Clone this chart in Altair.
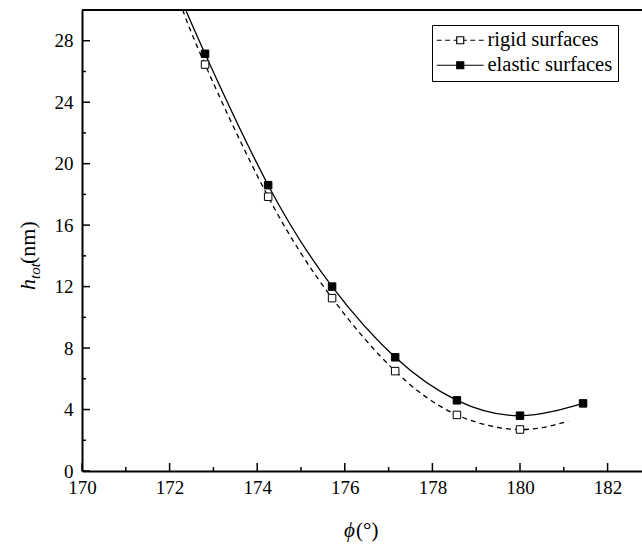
import altair as alt
import pandas as pd

# ---- data ----
phi = [172.81, 174.25, 175.71, 177.15, 178.56, 180.0, 181.44]
h_rigid = [26.45, 17.85, 11.25, 6.5, 3.65, 2.7]
h_elastic = [27.15, 18.6, 12.0, 7.4, 4.6, 3.6, 4.4]

fit_rigid_phi = [172.30, 172.81, 174.25, 175.71, 177.15, 178.56, 180.0, 181.1]
fit_rigid_h = [30.0, 26.45, 17.85, 11.25, 6.5, 3.65, 2.7, 3.25]
fit_elastic_phi = [172.37, 172.81, 174.25, 175.71, 177.15, 178.56, 180.0, 181.44]
fit_elastic_h = [30.0, 27.15, 18.6, 12.0, 7.4, 4.6, 3.6, 4.4]

series = ["rigid surfaces", "elastic surfaces"]
x_major = [170, 172, 174, 176, 178, 180, 182]
x_minor = [171, 173, 175, 177, 179, 181]
y_major = [0, 4, 8, 12, 16, 20, 24, 28]
y_minor = [2, 6, 10, 14, 18, 22, 26]

W, H = 560, 461
FONT = "Liberation Serif"
LFONT = "Liberation Serif, Times New Roman, serif"

pts = pd.DataFrame(
    {"phi": phi[:len(h_rigid)], "h": h_rigid, "series": series[0]}
)
pts = pd.concat(
    [pts, pd.DataFrame({"phi": phi, "h": h_elastic, "series": series[1]})],
    ignore_index=True,
)
fit_r = pd.DataFrame({"phi": fit_rigid_phi, "h": fit_rigid_h})
fit_e = pd.DataFrame({"phi": fit_elastic_phi, "h": fit_elastic_h})

xs = alt.Scale(domain=[170, 170 + W / 43.8], nice=False, zero=False)
ys = alt.Scale(domain=[0, 30], nice=False)

x_axis = alt.Axis(values=x_major, title=None, ticks=False, grid=False,
                  labelFont=LFONT, labelFontSize=19, labelColor="black",
                  labelPadding=7, domainColor="black", domainWidth=2,
                  labelFlush=False)
y_axis = alt.Axis(values=y_major, title=None, ticks=False, grid=False,
                  labelFont=LFONT, labelFontSize=19, labelColor="black",
                  labelPadding=9, domainColor="black", domainWidth=2)

line_r = alt.Chart(fit_r).mark_line(
    color="black", strokeWidth=1.3, strokeDash=[5, 4], interpolate="natural", clip=True
).encode(
    x=alt.X("phi:Q", scale=xs, axis=x_axis),
    y=alt.Y("h:Q", scale=ys, axis=y_axis),
    order="phi:Q",
)
line_e = alt.Chart(fit_e).mark_line(
    color="black", strokeWidth=1.3, interpolate="natural", clip=True
).encode(x=alt.X("phi:Q", scale=xs), y=alt.Y("h:Q", scale=ys), order="phi:Q")

rigid_path = ("M-6.7,0H-5.3M-4.3,0H-2.9M-1.9,0H-1"
              "M1,0H1.9M2.9,0H4.3M5.3,0H6.7M-1,-1H1V1H-1Z")
elastic_path = "M-6.7,0H-1M1,0H6.7M-1,-1H1V1H-1Z"

legend = alt.Legend(
    title=None, orient="none", legendX=350, legendY=15,
    strokeColor="black", fillColor="white", padding=5,
    labelFont=LFONT, labelFontSize=20.5, labelColor="black", labelLimit=0,
    symbolSize=49, symbolStrokeWidth=1.2, symbolStrokeColor="black",
    symbolOffset=13, labelOffset=17, rowPadding=4,
    labelExpr="datum.label + '\u00a0\u00a0\u00a0\u00a0'",
)
fill_scale = alt.Scale(domain=series, range=["white", "black"])
shape_scale = alt.Scale(domain=series, range=[rigid_path, elastic_path])

points = alt.Chart(pts).mark_point(
    shape="square", filled=True, size=56, stroke="black", strokeWidth=1, opacity=1
).encode(
    x=alt.X("phi:Q", scale=xs),
    y=alt.Y("h:Q", scale=ys),
    fill=alt.Fill("series:N", scale=fill_scale, legend=legend),
)

# legend-only layer (no rows drawn; scales carry the legend entries)
legend_layer = alt.Chart(pts).transform_filter("false").mark_point(
    filled=True, size=49, stroke="black", strokeWidth=1.2, opacity=1
).encode(
    x=alt.X("phi:Q", scale=xs),
    y=alt.Y("h:Q", scale=ys),
    fill=alt.Fill("series:N", scale=fill_scale, legend=legend),
    shape=alt.Shape("series:N", scale=shape_scale, legend=legend),
)

# inward ticks
xt_major = alt.Chart(pd.DataFrame({"v": x_major})).mark_rule(color="black", strokeWidth=1.5).encode(
    x=alt.X("v:Q", scale=xs), y=alt.value(H), y2=alt.value(H - 8))
xt_minor = alt.Chart(pd.DataFrame({"v": x_minor})).mark_rule(color="black", strokeWidth=1.5).encode(
    x=alt.X("v:Q", scale=xs), y=alt.value(H), y2=alt.value(H - 4))
yt_major = alt.Chart(pd.DataFrame({"v": y_major})).mark_rule(color="black", strokeWidth=1.5).encode(
    y=alt.Y("v:Q", scale=ys), x=alt.value(0), x2=alt.value(8))
yt_minor = alt.Chart(pd.DataFrame({"v": y_minor})).mark_rule(color="black", strokeWidth=1.5).encode(
    y=alt.Y("v:Q", scale=ys), x=alt.value(0), x2=alt.value(4))

one = alt.Data(values=[{}])
top_border = alt.Chart(one).mark_rule(color="black", strokeWidth=2).encode(
    x=alt.value(0), x2=alt.value(W), y=alt.value(0))


def txt(s, x, y, size, italic=False, angle=0):
    return alt.Chart(one).mark_text(
        text=s, font=FONT, fontSize=size, fontStyle="italic" if italic else "normal",
        color="black", align="left", baseline="alphabetic", angle=angle,
    ).encode(x=alt.value(x), y=alt.value(y))


titles = [
    txt("\u03d5", 262, 527, 21, italic=True),
    txt("(\u00b0)", 274, 527, 21),
    txt("h", -47, 280, 22, italic=True, angle=270),
    txt("tot", -42, 269, 15, italic=True, angle=270),
    txt("(nm)", -47, 254, 22, angle=270),
]

chart = alt.layer(
    line_r, line_e, points, legend_layer, xt_major, xt_minor, yt_major, yt_minor,
    top_border, *titles
).properties(
    width=W, height=H,
    autosize=alt.AutoSizeParams(type="none"),
    padding={"left": 82, "top": 10, "right": 0, "bottom": 74},
    background="white",
).configure_view(stroke=None).configure_axis(
    labelFont=LFONT, labelFontSize=19, labelColor="black"
).configure_legend(
    labelFont=LFONT, labelFontSize=20.5, labelColor="black"
).configure_text(font=FONT)

chart.save("out.html", embed_options={"renderer": "svg", "actions": False})
